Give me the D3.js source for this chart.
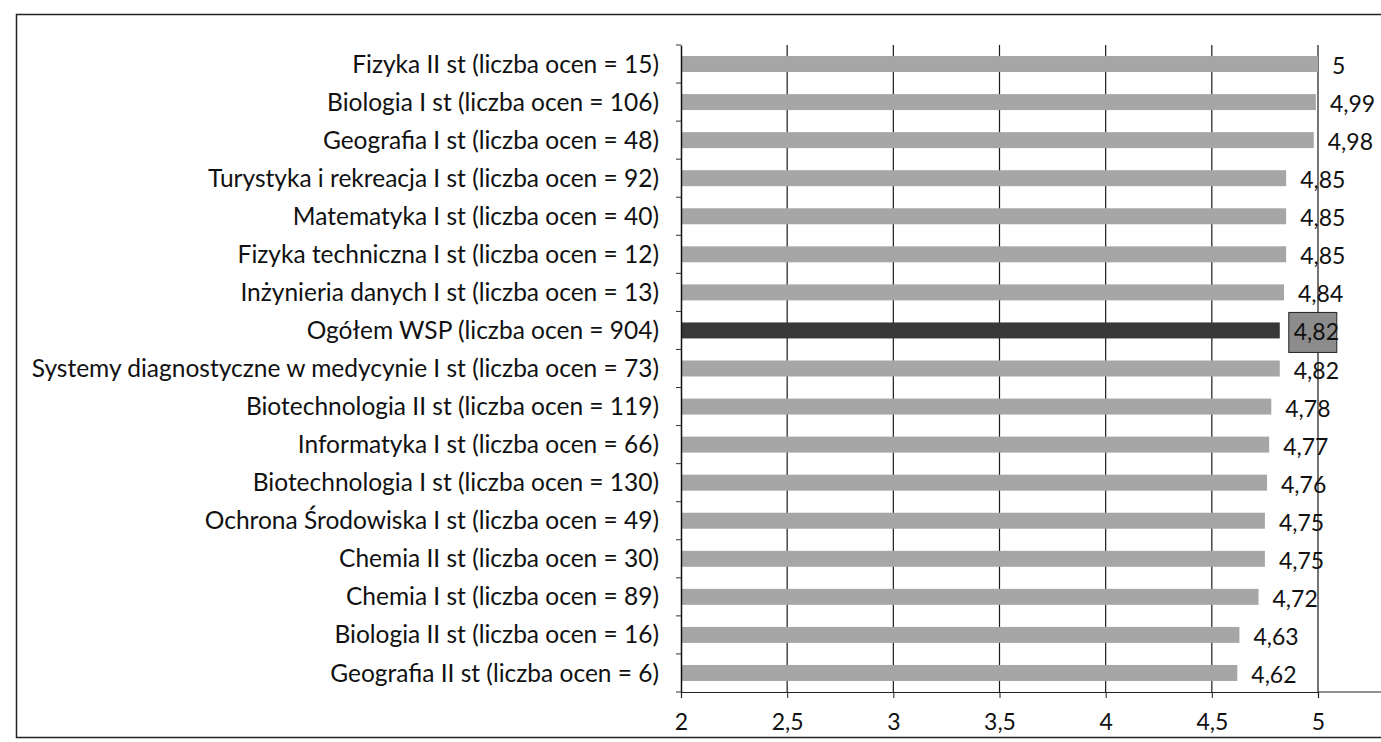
<!DOCTYPE html>
<html>
<head>
<meta charset="utf-8">
<script src="https://cdn.jsdelivr.net/npm/d3@7"></script>
<style>
  html, body { margin: 0; padding: 0; background: #fff; }
  svg { display: block; }
  text { font-family: Lato, "Open Sans", sans-serif; fill: #111; }
</style>
</head>
<body>
<svg id="chart" width="1381" height="742"></svg>
<script>
const categories = [
  "Fizyka II st (liczba ocen = 15)",
  "Biologia I st (liczba ocen = 106)",
  "Geografia I st (liczba ocen = 48)",
  "Turystyka i rekreacja I st (liczba ocen = 92)",
  "Matematyka I st (liczba ocen = 40)",
  "Fizyka techniczna I st (liczba ocen = 12)",
  "Inżynieria danych I st (liczba ocen = 13)",
  "Ogółem WSP (liczba ocen = 904)",
  "Systemy diagnostyczne w medycynie I st (liczba ocen = 73)",
  "Biotechnologia II st (liczba ocen = 119)",
  "Informatyka I st (liczba ocen = 66)",
  "Biotechnologia I st (liczba ocen = 130)",
  "Ochrona Środowiska I st (liczba ocen = 49)",
  "Chemia II st (liczba ocen = 30)",
  "Chemia I st (liczba ocen = 89)",
  "Biologia II st (liczba ocen = 16)",
  "Geografia II st (liczba ocen = 6)"
];
const values = [5, 4.99, 4.98, 4.85, 4.85, 4.85, 4.84, 4.82, 4.82, 4.78, 4.77, 4.76, 4.75, 4.75, 4.72, 4.63, 4.62];
const xTicks = [2, 2.5, 3, 3.5, 4, 4.5, 5];
const highlight = "Ogółem WSP (liczba ocen = 904)";

const svg = d3.select("#chart");
const W = 1381, H = 742;
const plot = { left: 681, right: 1318, top: 45, bottom: 692 };

const fmt = v => String(v).replace(".", ",");

// outer frame
svg.append("rect")
  .attr("x", 16.5).attr("y", 14.5)
  .attr("width", W + 10).attr("height", 723)
  .attr("fill", "none").attr("stroke", "#222").attr("stroke-width", 1.5);

const x = d3.scaleLinear().domain([2, 5]).range([plot.left, plot.right]);
const y = d3.scaleBand().domain(categories).range([plot.top, plot.bottom]).paddingInner(0.58).paddingOuter(0.29);
const yLine = d3.scaleBand().domain(categories).range([plot.top, plot.bottom]);

// vertical gridlines
svg.append("g")
  .selectAll("line")
  .data(xTicks.slice(1))
  .join("line")
  .attr("x1", d => x(d)).attr("x2", d => x(d))
  .attr("y1", plot.top).attr("y2", plot.bottom)
  .attr("stroke", "#1a1a1a").attr("stroke-width", 1.2);

// bars
svg.append("g")
  .selectAll("rect")
  .data(categories)
  .join("rect")
  .attr("x", x(2))
  .attr("y", d => y(d))
  .attr("width", (d, i) => x(values[i]) - x(2))
  .attr("height", y.bandwidth())
  .attr("fill", d => d === highlight ? "#383838" : "#a6a6a6");

// y axis
const yAxis = d3.axisLeft(yLine).tickSize(0).tickFormat("");
const gy = svg.append("g").attr("transform", `translate(${plot.left},0)`).call(yAxis);
gy.select(".domain").attr("stroke", "#111").attr("stroke-width", 1.5);
// tick marks at band boundaries
svg.append("g")
  .selectAll("line")
  .data(categories.concat([null]))
  .join("line")
  .attr("x1", plot.left - 5).attr("x2", plot.left)
  .attr("y1", (d, i) => plot.top + i * yLine.step())
  .attr("y2", (d, i) => plot.top + i * yLine.step())
  .attr("stroke", "#333").attr("stroke-width", 1);

// category labels
svg.append("g")
  .selectAll("text")
  .data(categories)
  .join("text")
  .attr("x", plot.left - 22)
  .attr("y", d => yLine(d) + yLine.bandwidth() / 2)
  .attr("dy", "0.35em")
  .attr("text-anchor", "end")
  .attr("font-size", 24.5)
  .text(d => d);

// x axis
const xAxis = d3.axisBottom(x).tickValues(xTicks).tickSize(6).tickPadding(16).tickFormat(fmt);
const gx = svg.append("g").attr("transform", `translate(0,${plot.bottom})`).call(xAxis);
gx.select(".domain").attr("stroke", "#222").attr("stroke-width", 1.2);
gx.selectAll(".tick line").attr("stroke", "#222");
gx.selectAll(".tick text").attr("font-size", 23).attr("font-family", "Lato, sans-serif").attr("fill", "#111");
svg.append("line")
  .attr("x1", plot.right).attr("x2", W)
  .attr("y1", plot.bottom).attr("y2", plot.bottom)
  .attr("stroke", "#222").attr("stroke-width", 1.2);

// value labels
const lg = svg.append("g");
categories.forEach((c, i) => {
  const tx = x(values[i]) + 14;
  const ty = yLine(c) + yLine.bandwidth() / 2 + 2;
  if (c === highlight) {
    lg.append("rect")
      .attr("x", tx - 5).attr("y", ty - 20)
      .attr("width", 48).attr("height", 40)
      .attr("fill", "#8c8c8c").attr("stroke", "#222").attr("stroke-width", 1);
  }
  lg.append("text")
    .attr("x", tx).attr("y", ty).attr("dy", "0.35em")
    .attr("font-size", 23)
    .text(fmt(values[i]));
});
</script>
</body>
</html>
